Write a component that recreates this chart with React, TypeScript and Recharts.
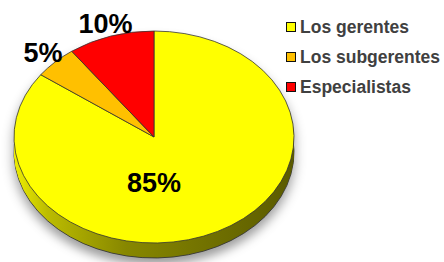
import React from 'react';
import { PieChart, Pie, Cell, Legend } from 'recharts';

const NAMES = ['Los gerentes', 'Los subgerentes', 'Especialistas'];
const VALUES = [85, 5, 10];
const LABELS = ['85%', '5%', '10%'];
const COLORS = ['#FFFF00', '#FFC000', '#FF0000'];

const data = NAMES.map((name, i) => ({ name, value: VALUES[i], label: LABELS[i] }));

const W = 444;
const H = 262;
const CX = 154;
const CY = 137;
const R = 140;
const SY = 0.757;
const DEPTH = 15;
const RAD = Math.PI / 180;
const FONT = '"Liberation Sans", Arial, sans-serif';
const HS = Math.round(H / SY);
const CYS = CY / SY;

const layers: number[] = [];
for (let k = DEPTH; k >= 1; k--) layers.push(k);

const renderLabel = (props: any) => {
  const { cx, cy, midAngle, outerRadius, index } = props;
  let x: number;
  let y: number;
  if (index === 0) {
    x = cx;
    y = cy + outerRadius * 0.43 * SY;
  } else {
    const r = outerRadius + 17;
    x = cx + r * Math.cos(-midAngle * RAD);
    y = cy + r * Math.sin(-midAngle * RAD) * SY;
  }
  return (
    <text
      key={`lbl-${index}`}
      x={x}
      y={y}
      textAnchor="middle"
      dominantBaseline="central"
      fontFamily={FONT}
      fontWeight="bold"
      fontSize={27}
      fill="#000"
    >
      {data[index].label}
    </text>
  );
};

const renderLegend = () => (
  <div style={{ fontFamily: FONT }}>
    {NAMES.map((n, i) => (
      <div key={n} style={{ display: 'flex', alignItems: 'center', height: 30 }}>
        <div
          style={{
            width: 8,
            height: 8,
            background: COLORS[i],
            border: '1px solid #111',
            marginRight: 4,
          }}
        />
        <span style={{ fontSize: 17.5, fontWeight: 'bold', color: '#404040', whiteSpace: 'nowrap' }}>{n}</span>
      </div>
    ))}
  </div>
);

export default function App() {
  return (
    <div style={{ position: 'absolute', left: 0, top: 0, width: W, height: H, background: '#fff', overflow: 'hidden' }}>
      <div
        style={{
          position: 'absolute',
          left: 0,
          top: 0,
          width: W,
          height: HS,
          transform: `scaleY(${SY})`,
          transformOrigin: '0 0',
          filter: 'drop-shadow(0px 9px 6px rgba(0,0,0,0.38))',
        }}
      >
        <PieChart width={W} height={HS} margin={{ top: 0, right: 0, bottom: 0, left: 0 }}>
          <defs>
            <linearGradient id="sideGrad" x1="0" y1="0" x2="1" y2="0">
              <stop offset="0%" stopColor="#eeee00" />
              <stop offset="12%" stopColor="#bcbc00" />
              <stop offset="40%" stopColor="#878700" />
              <stop offset="100%" stopColor="#5a5a00" />
            </linearGradient>
          </defs>
          {layers.map((k) => (
            <Pie
              key={`layer-${k}`}
              data={data}
              dataKey="value"
              nameKey="name"
              cx={CX}
              cy={CYS + k / SY}
              outerRadius={R}
              startAngle={90}
              endAngle={-270}
              isAnimationActive={false}
              legendType="none"
              stroke={k === DEPTH ? '#333' : 'none'}
              strokeWidth={k === DEPTH ? 1 : 0}
            >
              {data.map((d) => (
                <Cell key={d.name} fill="url(#sideGrad)" />
              ))}
            </Pie>
          ))}
          <Pie
            data={data}
            dataKey="value"
            nameKey="name"
            cx={CX}
            cy={CYS}
            outerRadius={R}
            startAngle={90}
            endAngle={-270}
            isAnimationActive={false}
            legendType="none"
            stroke="#333"
            strokeWidth={0.9}
          >
            {data.map((d, i) => (
              <Cell key={d.name} fill={COLORS[i]} />
            ))}
          </Pie>
        </PieChart>
      </div>
      <div style={{ position: 'absolute', left: 0, top: 0, width: W, height: H }}>
        <PieChart width={W} height={H} margin={{ top: 0, right: 0, bottom: 0, left: 0 }}>
          <Pie
            data={data}
            dataKey="value"
            nameKey="name"
            cx={CX}
            cy={CY}
            outerRadius={R}
            startAngle={90}
            endAngle={-270}
            isAnimationActive={false}
            fill="none"
            stroke="none"
            label={renderLabel}
            labelLine={false}
          >
            {data.map((d) => (
              <Cell key={d.name} fill="none" stroke="none" />
            ))}
          </Pie>
          <Legend
            content={renderLegend}
            layout="vertical"
            verticalAlign="top"
            align="right"
            wrapperStyle={{ position: 'absolute', left: 286, top: 12, width: 158 }}
          />
        </PieChart>
      </div>
    </div>
  );
}
